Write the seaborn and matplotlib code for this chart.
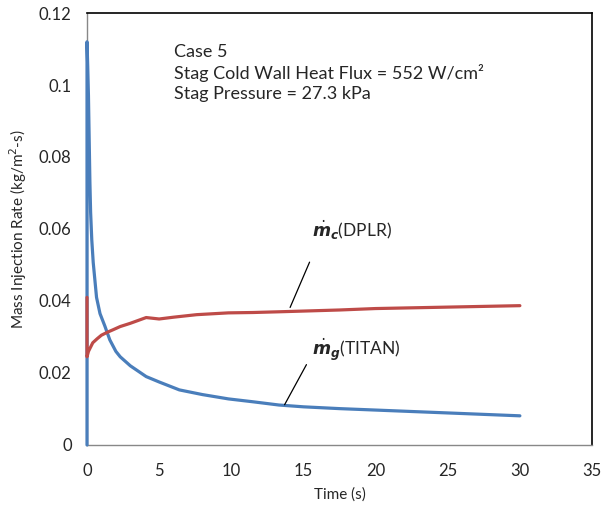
import matplotlib
matplotlib.use("Agg")
import matplotlib.pyplot as plt
import seaborn as sns
import pandas as pd

# data
titan_t = [0, 0, 0.05, 0.1, 0.15, 0.2, 0.25, 0.33, 0.43, 0.66, 0.9, 1.24, 1.58, 2.0, 2.3, 3.0, 4.1,
           5.0, 6.4, 8.0, 9.8, 11.5, 13.3, 15.0, 17.5, 20.0, 22.5, 25.0, 27.5, 30.0]
titan_y = [0, 0.112, 0.105, 0.097, 0.085, 0.073, 0.0646, 0.057, 0.0507, 0.041, 0.0365, 0.033,
           0.0292, 0.026, 0.0245, 0.022, 0.019, 0.0175, 0.0153, 0.014, 0.0128, 0.012, 0.0111,
           0.0106, 0.0101, 0.0097, 0.0093, 0.0089, 0.0085, 0.0081]

dplr_t = [0, 0, 0.1, 0.2, 0.4, 0.7, 1.0, 1.4, 1.8, 2.3, 3.0, 4.1, 5.0, 6.0, 7.6, 9.8, 11.5,
          13.3, 15.0, 17.5, 20.0, 22.5, 25.0, 27.5, 30.0]
dplr_y = [0.041, 0.0245, 0.026, 0.0268, 0.0284, 0.0295, 0.0305, 0.0313, 0.032, 0.0329, 0.0338,
          0.0354, 0.035, 0.0355, 0.0362, 0.0367, 0.0368, 0.0370, 0.0372, 0.0375, 0.0379,
          0.0381, 0.0383, 0.0385, 0.0387]

x_ticks = [0, 5, 10, 15, 20, 25, 30, 35]
y_ticks = [0, 0.02, 0.04, 0.06, 0.08, 0.1, 0.12]
y_tick_labels = ["0", "0.02", "0.04", "0.06", "0.08", "0.1", "0.12"]

titan = pd.DataFrame({"t": titan_t, "y": titan_y})
dplr = pd.DataFrame({"t": dplr_t, "y": dplr_y})

sns.set_style("white")
plt.rcParams["font.family"] = ["Lato", "DejaVu Sans"]

fig = plt.figure(figsize=(6.03, 5.12), dpi=100)
ax = fig.add_axes([0.1443, 0.1309, 0.8375, 0.8437])

sns.lineplot(data=titan, x="t", y="y", sort=False, estimator=None, color="#4A7EBB",
             linewidth=2.3, ax=ax, zorder=3, clip_on=False)
sns.lineplot(data=dplr, x="t", y="y", sort=False, estimator=None, color="#BE4B48",
             linewidth=2.3, ax=ax, zorder=3, clip_on=False)

ax.set_xlim(0, 35)
ax.set_ylim(0, 0.12)
ax.set_xticks(x_ticks)
ax.set_xticklabels([str(v) for v in x_ticks])
ax.set_yticks(y_ticks)
ax.set_yticklabels(y_tick_labels)
ax.tick_params(axis="both", direction="out", length=5, width=1, color="#888888",
               labelsize=12, pad=6)
ax.tick_params(axis="x", pad=8)

for s in ["left", "bottom"]:
    ax.spines[s].set_color("#888888")
    ax.spines[s].set_linewidth(1)
for s in ["top", "right"]:
    ax.spines[s].set_color("black")
    ax.spines[s].set_linewidth(1.2)

ax.set_xlabel("Time (s)", fontsize=11, labelpad=6)
ax.set_ylabel(r"Mass Injection Rate (kg/m$^2$-s)", fontsize=11, labelpad=7)

ax.text(6.0, 0.1115, "Case 5\nStag Cold Wall Heat Flux = 552 W/cm\u00b2\nStag Pressure = 27.3 kPa",
        fontsize=13, va="top", ha="left", linespacing=1.3)

ax.text(15.6, 0.0595, r"$\dot{\mathbfit{m}}_{\mathbfit{c}}$(DPLR)", fontsize=12.5,
        ha="left", va="center")
ax.annotate("", xy=(14.0, 0.0375), xytext=(15.5, 0.0515),
            arrowprops=dict(arrowstyle="-", color="black", lw=0.9))

ax.text(15.6, 0.0265, r"$\dot{\mathbfit{m}}_{\mathbfit{g}}$(TITAN)", fontsize=12.5,
        ha="left", va="center")
ax.annotate("", xy=(13.6, 0.0105), xytext=(15.3, 0.023),
            arrowprops=dict(arrowstyle="-", color="black", lw=0.9))

fig.savefig("out.png", dpi=100)
